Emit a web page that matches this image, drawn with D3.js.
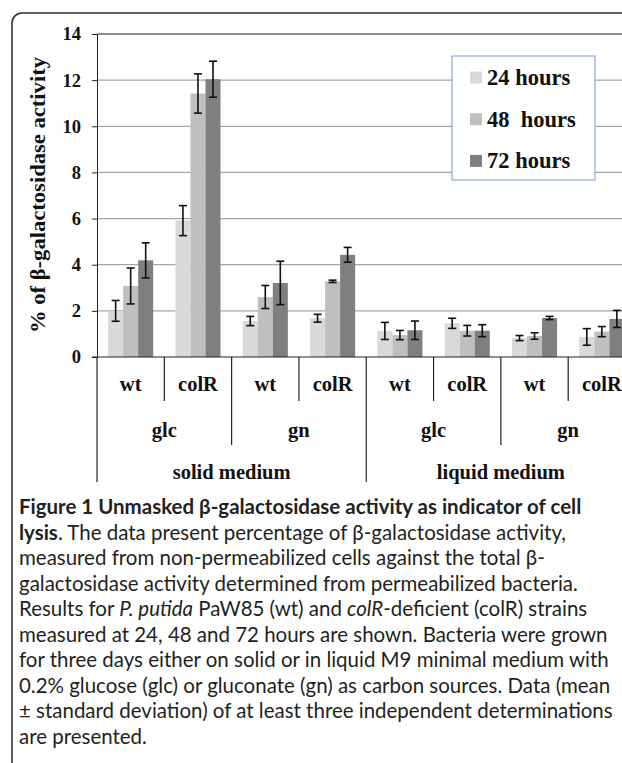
<!DOCTYPE html>
<html>
<head>
<meta charset="utf-8">
<script src="https://cdn.jsdelivr.net/npm/d3@7"></script>
<style>
  html, body { margin: 0; padding: 0; background: #fff; }
  svg { display: block; }
  .serif { font-family: "Liberation Serif", "Times New Roman", serif; font-weight: bold; fill: #111; }
  .cap { font-family: Lato, "Liberation Sans", sans-serif; fill: #231f20; }
</style>
</head>
<body>
<div id="chart"></div>
<script>
// data
var strains = ['wt', 'colR', 'wt', 'colR', 'wt', 'colR', 'wt', 'colR'];
var sources = ['glc', 'gn', 'glc', 'gn'];
var mediums = ['solid medium', 'liquid medium'];
var series = ['24 hours', '48  hours', '72 hours'];
var h24 = [2.0, 5.91, 1.56, 1.68, 1.13, 1.46, 0.82, 0.87];
var h48 = [3.08, 11.42, 2.6, 3.28, 0.95, 1.14, 0.91, 1.1];
var h72 = [4.19, 12.04, 3.21, 4.43, 1.16, 1.14, 1.69, 1.65];
var sd24 = [0.45, 0.65, 0.2, 0.17, 0.37, 0.22, 0.11, 0.36];
var sd48 = [0.78, 0.85, 0.5, 0.05, 0.2, 0.23, 0.14, 0.22];
var sd72 = [0.76, 0.78, 0.94, 0.32, 0.4, 0.26, 0.07, 0.37];
var yTicks = [0, 2, 4, 6, 8, 10, 12, 14];
var colors = ['#d9d9d9', '#bfbfbf', '#7f7f7f'];

var captionLines = [
  [['Figure 1 Unmasked β-galactosidase activity as indicator of cell', 'b']],
  [['lysis', 'b'], ['. The data present percentage of β-galactosidase activity,', '']],
  [['measured from non-permeabilized cells against the total β-', '']],
  [['galactosidase activity determined from permeabilized bacteria.', '']],
  [['Results for ', ''], ['P. putida', 'i'], [' PaW85 (wt) and ', ''], ['colR', 'i'], ['-deficient (colR) strains', '']],
  [['measured at 24, 48 and 72 hours are shown. Bacteria were grown', '']],
  [['for three days either on solid or in liquid M9 minimal medium with', '']],
  [['0.2% glucose (glc) or gluconate (gn) as carbon sources. Data (mean', '']],
  [['± standard deviation) of at least three independent determinations', '']],
  [['are presented.', '']]
];

var W = 622, H = 763;
var margin = { top: 34, left: 97 };
var plotH = 323, plotW = 538.5;

var svg = d3.select('#chart').append('svg').attr('width', W).attr('height', H);

// outer frame
svg.append('rect').attr('x', 12).attr('y', 13).attr('width', 700).attr('height', 800)
  .attr('rx', 10).attr('fill', 'none').attr('stroke', '#333').attr('stroke-width', 1.6);

var values = [h24, h48, h72];
var sds = [sd24, sd48, sd72];

var x = d3.scaleBand().domain(d3.range(strains.length)).range([margin.left, margin.left + plotW]);
var xSub = d3.scaleBand().domain(d3.range(series.length)).range([0, x.bandwidth()]).paddingOuter(0.74);
var y = d3.scaleLinear().domain([0, 14]).range([margin.top + plotH, margin.top]);

// gridlines
svg.append('g').selectAll('line').data(yTicks.filter(function (d) { return d > 0 && d < 14; }))
  .enter().append('line')
  .attr('x1', margin.left).attr('x2', W).attr('y1', function (d) { return y(d); }).attr('y2', function (d) { return y(d); })
  .attr('stroke', '#a6a6a6').attr('stroke-width', 1.2);
svg.append('line').attr('x1', margin.left).attr('x2', W).attr('y1', y(14)).attr('y2', y(14))
  .attr('stroke', '#222').attr('stroke-width', 1.2);

// bars
var groups = svg.append('g').selectAll('g').data(series).enter().append('g')
  .attr('fill', function (d, i) { return colors[i]; });
groups.selectAll('rect').data(function (d, i) {
  return values[i].map(function (v, j) { return { s: i, c: j, v: v, e: sds[i][j] }; });
}).enter().append('rect')
  .attr('x', function (d) { return x(d.c) + xSub(d.s); })
  .attr('width', xSub.bandwidth())
  .attr('y', function (d) { return y(d.v); })
  .attr('height', function (d) { return y(0) - y(d.v); });

// error bars
var errs = svg.append('g').attr('stroke', '#111').attr('stroke-width', 1.6);
values.forEach(function (vals, i) {
  vals.forEach(function (v, j) {
    var cx = x(j) + xSub(i) + xSub.bandwidth() / 2;
    var e = sds[i][j];
    errs.append('line').attr('x1', cx).attr('x2', cx).attr('y1', y(v + e)).attr('y2', y(v - e));
    errs.append('line').attr('x1', cx - 4).attr('x2', cx + 4).attr('y1', y(v + e)).attr('y2', y(v + e));
    errs.append('line').attr('x1', cx - 4).attr('x2', cx + 4).attr('y1', y(v - e)).attr('y2', y(v - e));
  });
});

// y axis
var yAxis = d3.axisLeft(y).tickValues(yTicks).tickSize(5).tickSizeOuter(0).tickPadding(11)
  .tickFormat(d3.format('d'));
var ya = svg.append('g').attr('transform', 'translate(' + margin.left + ',0)').call(yAxis);
ya.selectAll('path, line').attr('stroke', '#222');
ya.selectAll('text').attr('class', 'serif').style('font-size', '18.5px').attr('fill', '#111');

svg.append('text').attr('class', 'serif')
  .attr('transform', 'translate(45,' + (57 + 276 / 2) + ') rotate(-90)')
  .attr('text-anchor', 'middle')
  .attr('textLength', 276).attr('lengthAdjust', 'spacingAndGlyphs')
  .style('font-size', '20px')
  .text('% of β-galactosidase activity');

// x axis line
svg.append('line').attr('x1', margin.left - 5).attr('x2', W).attr('y1', y(0)).attr('y2', y(0))
  .attr('stroke', '#222').attr('stroke-width', 1.2);

// category separators
var sep = svg.append('g').attr('stroke', '#222').attr('stroke-width', 1.2);
d3.range(strains.length + 1).forEach(function (i) {
  var len = i % 4 === 0 ? 125 : (i % 2 === 0 ? 88 : 44);
  var xx = i < strains.length ? x(i) : margin.left + plotW;
  sep.append('line').attr('x1', xx).attr('x2', xx).attr('y1', y(0)).attr('y2', y(0) + len);
});

svg.append('g').selectAll('text').data(strains).enter().append('text').attr('class', 'serif')
  .attr('x', function (d, i) { return x(i) + x.bandwidth() / 2; }).attr('y', 391)
  .attr('text-anchor', 'middle').style('font-size', '20.5px').text(function (d) { return d; });
svg.append('g').selectAll('text').data(sources).enter().append('text').attr('class', 'serif')
  .attr('x', function (d, i) { return x(i * 2) + x.bandwidth(); }).attr('y', 437)
  .attr('text-anchor', 'middle').style('font-size', '20.5px').text(function (d) { return d; });
svg.append('g').selectAll('text').data(mediums).enter().append('text').attr('class', 'serif')
  .attr('x', function (d, i) { return x(i * 4) + 2 * x.bandwidth(); }).attr('y', 479)
  .attr('text-anchor', 'middle').style('font-size', '20.5px').text(function (d) { return d; });

// legend
var lg = svg.append('g').attr('transform', 'translate(452,56)');
lg.append('rect').attr('width', 143).attr('height', 124).attr('fill', '#fff')
  .attr('stroke', '#8eaadb').attr('stroke-width', 1.2);
var li = lg.selectAll('g').data(series).enter().append('g')
  .attr('transform', function (d, i) { return 'translate(18,' + (21.5 + i * 41.7) + ')'; });
li.append('rect').attr('y', -6).attr('width', 12).attr('height', 12)
  .attr('fill', function (d, i) { return colors[i]; });
li.append('text').attr('class', 'serif').attr('x', 17).attr('y', 7.5)
  .style('font-size', '22.5px').style('white-space', 'pre').text(function (d) { return d; });

// caption
var cap = svg.append('g').attr('class', 'cap');
var capLines = cap.selectAll('text').data(captionLines).enter().append('text')
  .attr('x', 19).attr('y', function (d, i) { return 514 + i * 25.5; })
  .style('font-size', '18px');
capLines.selectAll('tspan').data(function (d) { return d; }).enter().append('tspan')
  .style('font-weight', function (d) { return d[1] === 'b' ? 'bold' : null; })
  .style('font-style', function (d) { return d[1] === 'i' ? 'italic' : null; })
  .text(function (d) { return d[0]; });
// fit font size so the long line spans like the figure
var ref = capLines.filter(function (d, i) { return i === 8; }).node().getComputedTextLength();
capLines.style('font-size', (18 * 594 / ref) + 'px');
</script>
</body>
</html>
